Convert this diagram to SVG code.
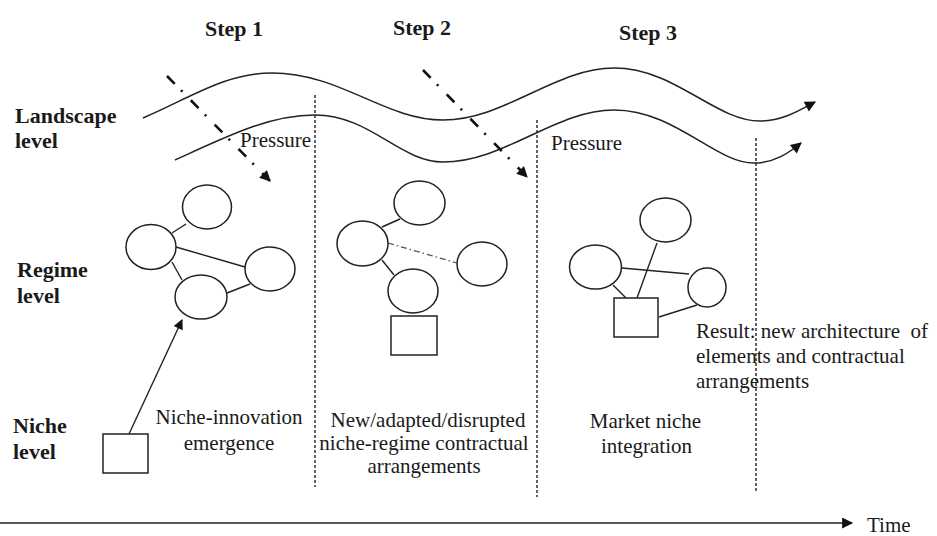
<svg xmlns="http://www.w3.org/2000/svg" width="937" height="536" viewBox="0 0 937 536">
<style>
.bg{fill:#fff}
.lbl{font-family:"Liberation Serif","Times New Roman",serif;font-size:22px;font-weight:bold;fill:#1a1a1a}
.txt{font-family:"Liberation Serif","Times New Roman",serif;font-size:21px;fill:#1a1a1a}
.mid{text-anchor:middle}
.node{fill:#fff;stroke:#222;stroke-width:1.5}
.edge{fill:none;stroke:#222;stroke-width:1.4}
.wave{fill:none;stroke:#222;stroke-width:1.5}
.div{fill:none;stroke:#222;stroke-width:1.4;stroke-dasharray:3 2}
.press{fill:none;stroke:#111;stroke-width:2.6;stroke-dasharray:11 9 2 12}
.dd{fill:none;stroke:#555;stroke-width:1.3;stroke-dasharray:6 3 1.5 3}
</style>
<defs>
<marker id="ah" viewBox="0 0 10 10" refX="9" refY="5" markerUnits="userSpaceOnUse" markerWidth="14" markerHeight="11" orient="auto">
<path d="M0,0 L10,5 L0,10 z" fill="#111"/>
</marker>
<marker id="ahs" viewBox="0 0 10 10" refX="9" refY="5" markerUnits="userSpaceOnUse" markerWidth="12" markerHeight="10" orient="auto">
<path d="M0,0 L10,5 L0,10 z" fill="#111"/>
</marker>
</defs>
<rect class="bg" x="0" y="0" width="937" height="536"/>

<g id="labels">
<text class="lbl mid" x="234" y="36">Step 1</text>
<text class="lbl mid" x="422" y="35">Step 2</text>
<text class="lbl mid" x="648" y="40">Step 3</text>
<text class="lbl" x="15" y="123">Landscape</text>
<text class="lbl" x="15" y="148">level</text>
<text class="lbl" x="17" y="277">Regime</text>
<text class="lbl" x="17" y="303">level</text>
<text class="lbl" x="13" y="433">Niche</text>
<text class="lbl" x="13" y="459">level</text>
</g>

<g id="dividers">
<line class="div" x1="315" y1="95" x2="315" y2="487"/>
<line class="div" x1="537" y1="120" x2="537" y2="497"/>
<line class="div" x1="756" y1="138" x2="756" y2="493"/>
</g>

<g id="connectors">
<path class="wave" d="M143,118 C190,98 225,73 272,73 C340,73 385,120 443,120 C505,120 555,68 614,68 C675,68 715,121 760,121 C783,121 800,110 815,102" marker-end="url(#ah)"/>
<path class="wave" d="M175,160 C230,135 270,115 315,115 C370,115 400,162 443,162 C505,162 555,110 614,110 C675,110 715,163 754,163 C775,163 790,152 801,143" marker-end="url(#ah)"/>
<path class="press" d="M167,76 L270,181" marker-end="url(#ah)"/>
<path class="press" d="M423,70 L527,177" marker-end="url(#ah)"/>
<line class="edge" x1="172" y1="233" x2="186" y2="224"/>
<line class="edge" x1="176" y1="247" x2="245" y2="267"/>
<line class="edge" x1="172" y1="262" x2="182" y2="280"/>
<line class="edge" x1="227" y1="293" x2="250" y2="284"/>
<line class="edge" x1="129" y1="434" x2="182" y2="320" marker-end="url(#ahs)"/>
<line class="edge" x1="382" y1="227" x2="400" y2="219"/>
<line class="dd" x1="388" y1="243" x2="457" y2="263"/>
<line class="edge" x1="382" y1="260" x2="394" y2="275"/>
<line class="edge" x1="622" y1="268" x2="689" y2="274"/>
<line class="edge" x1="657" y1="243" x2="637" y2="298"/>
<line class="edge" x1="613" y1="285" x2="626" y2="298"/>
<line class="edge" x1="659" y1="317" x2="697" y2="305"/>
<line class="edge" x1="0" y1="523" x2="852" y2="523" stroke-width="1.8" marker-end="url(#ah)"/>
</g>

<g id="step1-nodes">
<ellipse id="s1-top" class="node" cx="207" cy="207" rx="24.5" ry="22"/>
<ellipse id="s1-left" class="node" cx="151" cy="247" rx="25" ry="22.5"/>
<ellipse id="s1-right" class="node" cx="270" cy="269" rx="25" ry="22"/>
<ellipse id="s1-bottom" class="node" cx="201" cy="297" rx="26" ry="22"/>
<rect id="s1-niche" class="node" x="103" y="434" width="45" height="39"/>
</g>

<g id="step2-nodes">
<ellipse id="s2-top" class="node" cx="419.5" cy="203" rx="25.5" ry="22"/>
<ellipse id="s2-left" class="node" cx="362.5" cy="243.5" rx="25.5" ry="22.5"/>
<ellipse id="s2-right" class="node" cx="482" cy="264" rx="25" ry="22"/>
<ellipse id="s2-bottom" class="node" cx="413" cy="291" rx="25" ry="22"/>
<rect id="s2-niche" class="node" x="391" y="316" width="46" height="39"/>
</g>

<g id="step3-nodes">
<ellipse id="s3-top" class="node" cx="665.5" cy="220" rx="25.5" ry="22"/>
<ellipse id="s3-left" class="node" cx="595.5" cy="267" rx="26" ry="22"/>
<ellipse id="s3-right" class="node" cx="707" cy="287.5" rx="19" ry="19.5"/>
<rect id="s3-niche" class="node" x="614" y="298" width="44" height="39"/>
</g>

<g id="texts">
<text class="txt" x="240" y="147">Pressure</text>
<text class="txt" x="551" y="150">Pressure</text>
<text class="txt mid" x="229" y="424">Niche-innovation</text>
<text class="txt mid" x="229" y="450">emergence</text>
<text class="txt mid" x="428" y="427">New/adapted/disrupted</text>
<text class="txt mid" x="424" y="450">niche-regime contractual</text>
<text class="txt mid" x="424" y="473">arrangements</text>
<text class="txt mid" x="645.5" y="428">Market niche</text>
<text class="txt mid" x="646.5" y="453">integration</text>
<text class="txt" x="696" y="338" xml:space="preserve">Result: new architecture  of</text>
<text class="txt" x="696" y="363">elements and contractual</text>
<text class="txt" x="696" y="388">arrangements</text>
<text class="txt" x="867" y="532">Time</text>
</g>
</svg>
